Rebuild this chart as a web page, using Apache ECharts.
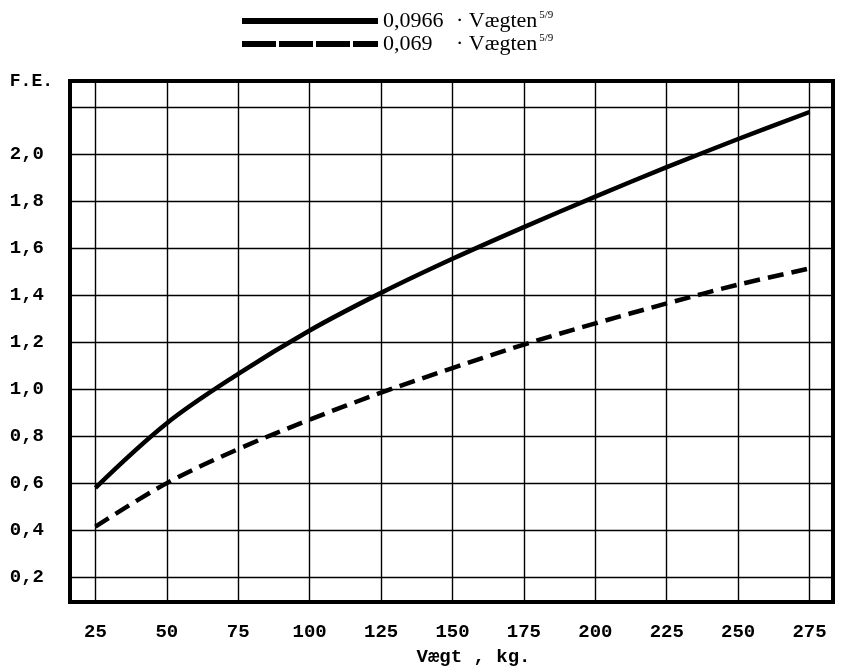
<!DOCTYPE html>
<html>
<head>
<meta charset="utf-8">
<script src="https://cdn.jsdelivr.net/npm/echarts@6/dist/echarts.min.js"></script>
<style>
  html, body { margin: 0; padding: 0; background: #fff; }
  #chart { width: 844px; height: 672px; }
</style>
</head>
<body>
<div id="chart"></div>
<script>
// Foderenheder (F.E.) som funktion af vægten
const xTicks = [25, 50, 75, 100, 125, 150, 175, 200, 225, 250, 275];
const yGridValues = [0.2, 0.4, 0.6, 0.8, 1.0, 1.2, 1.4, 1.6, 1.8, 2.0, 2.2];
const yLabelValues = [0.2, 0.4, 0.6, 0.8, 1.0, 1.2, 1.4, 1.6, 1.8, 2.0];

const weightsUpper = [25, 50, 75, 100, 125, 150, 175, 200, 225, 250, 275];
const feUpper = [0.58, 0.855, 1.065, 1.25, 1.41, 1.555, 1.69, 1.82, 1.945, 2.065, 2.18];

const weightsLower = [25, 50, 75, 100, 125, 150, 175, 200, 225, 250, 276.5];
const feLower = [0.415, 0.60, 0.745, 0.87, 0.985, 1.09, 1.19, 1.28, 1.365, 1.445, 1.518];

const seriesNames = ['0,0966', '0,069'];

const mono = '"Liberation Mono", "DejaVu Sans Mono", monospace';
const serif = '"Liberation Serif", "DejaVu Serif", serif';

const pairs = (xs, ys) => xs.map((x, i) => [x, ys[i]]);

const chart = echarts.init(document.getElementById('chart'), null, { renderer: 'canvas' });

chart.setOption({
  animation: false,
  backgroundColor: '#ffffff',
  color: ['#000', '#000'],
  legend: {
    orient: 'vertical',
    left: 239,
    top: 10,
    padding: 0,
    itemWidth: 136,
    itemHeight: 10,
    itemGap: 1,
    selectedMode: false,
    data: [
      { name: seriesNames[0], itemStyle: { color: '#000', opacity: 0 }, lineStyle: { width: 6, type: 'solid', color: '#000' } },
      { name: seriesNames[1], itemStyle: { color: '#000', opacity: 0 }, lineStyle: { width: 6, type: [34, 3], color: '#000' } }
    ],
    formatter: name => `{n|${name}}{d|·} {v|Vægten}{s|5/9}`,
    textStyle: {
      fontFamily: serif,
      fontSize: 22,
      color: '#000',
      lineHeight: 20,
      rich: {
        n: { fontFamily: serif, fontSize: 22, width: 73, color: '#000' },
        d: { fontFamily: serif, fontSize: 22, color: '#000' },
        v: { fontFamily: serif, fontSize: 22, color: '#000' },
        s: { fontFamily: serif, fontSize: 11, color: '#000', padding: [0, 0, 11, 2] }
      }
    }
  },
  grid: {
    left: 70,
    top: 81,
    right: 11,
    bottom: 68,
    show: true,
    borderColor: '#000',
    borderWidth: 4,
    backgroundColor: 'transparent'
  },
  xAxis: {
    type: 'value',
    min: 16.1,
    max: 283.2,
    name: 'Vægt , kg.',
    nameLocation: 'middle',
    nameGap: 46,
    nameTextStyle: {
      fontFamily: mono, fontWeight: 'bold', fontSize: 19, color: '#000',
      padding: [0, 0, 0, 44]
    },
    axisLine: { show: false },
    axisTick: { show: false, customValues: xTicks },
    axisLabel: {
      customValues: xTicks,
      margin: 21,
      fontFamily: mono, fontWeight: 'bold', fontSize: 19, color: '#000'
    },
    splitLine: { show: true, lineStyle: { color: '#000', width: 1.4 } }
  },
  yAxis: {
    type: 'value',
    min: 0.094,
    max: 2.312,
    name: 'F.E.',
    nameLocation: 'end',
    nameGap: 0,
    nameTextStyle: {
      fontFamily: mono, fontWeight: 'bold', fontSize: 18, color: '#000',
      align: 'right', verticalAlign: 'middle', padding: [0, 17, 0, 0]
    },
    axisLine: { show: false },
    axisTick: { show: false, customValues: yGridValues },
    axisLabel: {
      customValues: yLabelValues,
      margin: 26,
      formatter: v => v.toFixed(1).replace('.', ','),
      fontFamily: mono, fontWeight: 'bold', fontSize: 19, color: '#000'
    },
    splitLine: { show: true, lineStyle: { color: '#000', width: 1.4 } }
  },
  series: [
    {
      name: seriesNames[0],
      type: 'line',
      data: pairs(weightsUpper, feUpper),
      smooth: 0.35,
      symbol: 'none',
      itemStyle: { color: '#000' },
      lineStyle: { color: '#000', width: 4.5, type: 'solid', cap: 'butt' },
      z: 5
    },
    {
      name: seriesNames[1],
      type: 'line',
      data: pairs(weightsLower, feLower),
      smooth: 0.35,
      symbol: 'none',
      itemStyle: { color: '#000' },
      lineStyle: { color: '#000', width: 4.5, type: [16, 8], cap: 'butt' },
      z: 5
    }
  ]
});
</script>
</body>
</html>
